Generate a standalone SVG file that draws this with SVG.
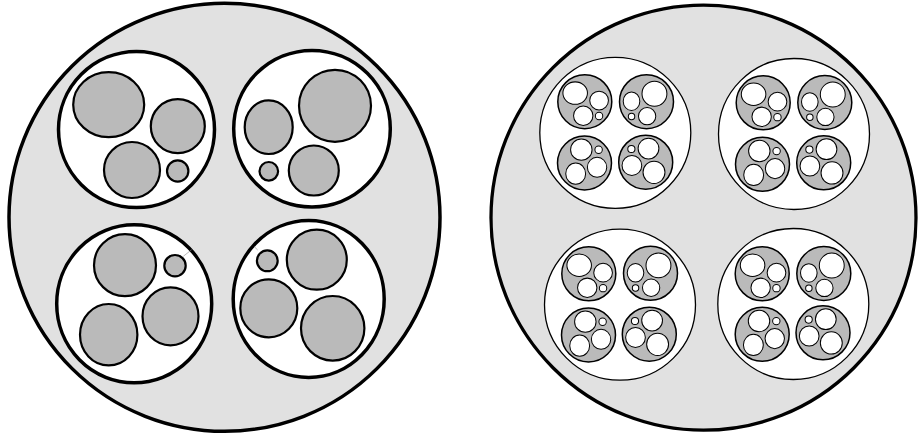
<svg xmlns="http://www.w3.org/2000/svg" xmlns:xlink="http://www.w3.org/1999/xlink" width="918" height="439" viewBox="0 0 918 439">
<style>
.outer{fill:#e1e1e1;stroke:#000;}
.lw{fill:#fff;stroke:#000;stroke-width:3.5;}
.lg{fill:#bababa;stroke:#000;stroke-width:2.2;}
.rw{fill:#fff;stroke:#000;stroke-width:1.3;}
.rg{fill:#bababa;stroke:#000;stroke-width:1.5;}
.ri{fill:#fff;stroke:#000;stroke-width:2.9;}
.art{stroke:#8a8a8a;stroke-width:0.6;fill:none;}
</style>
<defs>
<g id="pat-tl">
<ellipse cx="-27.8" cy="-24.8" rx="35.5" ry="32.5"/>
<circle cx="41.3" cy="-3.3" r="27"/>
<circle cx="-4.5" cy="40.5" r="28"/>
<circle cx="41.2" cy="41.5" r="10.7"/>
</g>
<g id="pat-tr">
<circle cx="23" cy="-22.9" r="36"/>
<ellipse cx="-43.3" cy="-1.5" rx="24" ry="26.8"/>
<circle cx="1.8" cy="41.8" r="25"/>
<circle cx="-43.2" cy="42.6" r="9.3"/>
</g>
<g id="pat-bl">
<circle cx="-9.2" cy="-38.6" r="31"/>
<circle cx="40.8" cy="-38.1" r="10.7"/>
<ellipse cx="36.3" cy="12.5" rx="28" ry="29"/>
<ellipse cx="-25.5" cy="30.9" rx="28.7" ry="30.7"/>
</g>
<g id="pat-br">
<circle cx="8.1" cy="-39.3" r="30"/>
<circle cx="-41.4" cy="-38.2" r="10.4"/>
<ellipse cx="-39.9" cy="9.3" rx="28.5" ry="29"/>
<ellipse cx="24" cy="29.3" rx="31.7" ry="32.3"/>
</g>
</defs>

<g id="left-cable">
<ellipse class="outer" cx="224.5" cy="217.3" rx="215.5" ry="214" stroke-width="3.5"/>
<g id="left-tl">
<circle class="lw" cx="136.5" cy="129.5" r="78"/>
<use class="lg" href="#pat-tl" xlink:href="#pat-tl" x="136.5" y="129.5"/>
</g>
<g id="left-tr">
<circle class="lw" cx="312" cy="128.7" r="78.3"/>
<use class="lg" href="#pat-tr" xlink:href="#pat-tr" x="312" y="128.7"/>
</g>
<g id="left-bl">
<ellipse class="lw" cx="134.2" cy="303.8" rx="77.5" ry="79"/>
<use class="lg" href="#pat-bl" xlink:href="#pat-bl" x="134.2" y="303.8"/>
<line class="art" x1="183.3" y1="256.3" x2="191.7" y2="249.7"/>
</g>
<g id="left-br">
<ellipse class="lw" cx="308.7" cy="299" rx="75.5" ry="78.5"/>
<use class="lg" href="#pat-br" xlink:href="#pat-br" x="308.7" y="299"/>
<line class="art" x1="254.3" y1="246.7" x2="257.7" y2="250"/>
</g>
</g>

<g id="right-cable">
<circle class="outer" cx="703.5" cy="217.7" r="212.5" stroke-width="3.3"/>

<g id="right-tl">
<circle class="rw" cx="615.3" cy="132.8" r="75.5"/>
<circle class="rg" cx="584.8" cy="101.7" r="27"/>
<use class="ri" href="#pat-tl" xlink:href="#pat-tl" transform="translate(584.8,101.7) scale(0.346)"/>
<circle class="rg" cx="646.5" cy="101.7" r="27"/>
<use class="ri" href="#pat-tr" xlink:href="#pat-tr" transform="translate(646.5,101.7) scale(0.346)"/>
<circle class="rg" cx="584.5" cy="163" r="27"/>
<use class="ri" href="#pat-bl" xlink:href="#pat-bl" transform="translate(584.5,163) scale(0.346)"/>
<circle class="rg" cx="645.7" cy="162.2" r="27"/>
<use class="ri" href="#pat-br" xlink:href="#pat-br" transform="translate(645.7,162.2) scale(0.346)"/>
</g>

<g id="right-tr">
<circle class="rw" cx="794" cy="134" r="75.5"/>
<circle class="rg" cx="763.2" cy="102.8" r="27"/>
<use class="ri" href="#pat-tl" xlink:href="#pat-tl" transform="translate(763.2,102.8) scale(0.346)"/>
<circle class="rg" cx="824.8" cy="102.5" r="27"/>
<use class="ri" href="#pat-tr" xlink:href="#pat-tr" transform="translate(824.8,102.5) scale(0.346)"/>
<circle class="rg" cx="762.5" cy="164.3" r="27"/>
<use class="ri" href="#pat-bl" xlink:href="#pat-bl" transform="translate(762.5,164.3) scale(0.346)"/>
<circle class="rg" cx="823.7" cy="162.8" r="27"/>
<use class="ri" href="#pat-br" xlink:href="#pat-br" transform="translate(823.7,162.8) scale(0.346)"/>
</g>

<g id="right-bl">
<circle class="rw" cx="620" cy="304.7" r="75.5"/>
<circle class="rg" cx="588.8" cy="273.8" r="27"/>
<use class="ri" href="#pat-tl" xlink:href="#pat-tl" transform="translate(588.8,273.8) scale(0.346)"/>
<circle class="rg" cx="650.5" cy="273.3" r="27"/>
<use class="ri" href="#pat-tr" xlink:href="#pat-tr" transform="translate(650.5,273.3) scale(0.346)"/>
<circle class="rg" cx="588.5" cy="335" r="27"/>
<use class="ri" href="#pat-bl" xlink:href="#pat-bl" transform="translate(588.5,335) scale(0.346)"/>
<circle class="rg" cx="649.3" cy="334.2" r="27"/>
<use class="ri" href="#pat-br" xlink:href="#pat-br" transform="translate(649.3,334.2) scale(0.346)"/>
</g>

<g id="right-br">
<circle class="rw" cx="793.3" cy="304" r="75.5"/>
<circle class="rg" cx="762.2" cy="273.8" r="27"/>
<use class="ri" href="#pat-tl" xlink:href="#pat-tl" transform="translate(762.2,273.8) scale(0.346)"/>
<circle class="rg" cx="823.8" cy="273.5" r="27"/>
<use class="ri" href="#pat-tr" xlink:href="#pat-tr" transform="translate(823.8,273.5) scale(0.346)"/>
<circle class="rg" cx="762.2" cy="334.3" r="27"/>
<use class="ri" href="#pat-bl" xlink:href="#pat-bl" transform="translate(762.2,334.3) scale(0.346)"/>
<circle class="rg" cx="823" cy="332.8" r="27"/>
<use class="ri" href="#pat-br" xlink:href="#pat-br" transform="translate(823,332.8) scale(0.346)"/>
</g>
</g>
</svg>
